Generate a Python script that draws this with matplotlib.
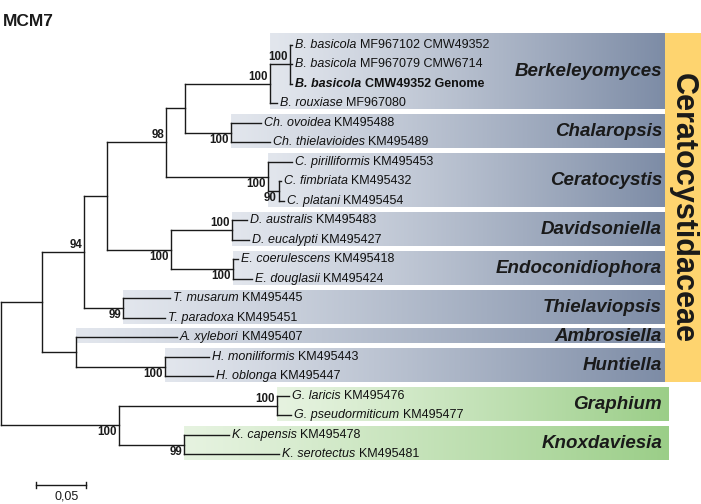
import matplotlib
matplotlib.use("Agg")
import matplotlib.pyplot as plt
import numpy as np
from matplotlib.collections import LineCollection
from matplotlib.patches import Rectangle

plt.rcParams['font.family'] = ['Liberation Sans', 'DejaVu Sans']

# ---------------- data ----------------
title = "MCM7"
leaf_species = ["B. basicola", "B. basicola", "B. basicola", "B. rouxiase",
                "Ch. ovoidea", "Ch. thielavioides", "C. pirilliformis",
                "C. fimbriata", "C. platani", "D. australis", "D. eucalypti",
                "E. coerulescens", "E. douglasii", "T. musarum", "T. paradoxa",
                "A. xylebori", "H. moniliformis", "H. oblonga", "G. laricis",
                "G. pseudormiticum", "K. capensis", "K. serotectus"]
leaf_accession = ["MF967102 CMW49352", "MF967079 CMW6714", "CMW49352 Genome",
                  "MF967080", "KM495488", "KM495489", "KM495453", "KM495432",
                  "KM495454", "KM495483", "KM495427", "KM495418", "KM495424",
                  "KM495445", "KM495451", "KM495407", "KM495443", "KM495447",
                  "KM495476", "KM495477", "KM495478", "KM495481"]
# distance of each tip from the root (substitutions/site)
leaf_depth = [0.291, 0.291, 0.291, 0.276, 0.260, 0.269, 0.291, 0.280, 0.283,
              0.246, 0.248, 0.237, 0.251, 0.169, 0.164, 0.176, 0.208, 0.212,
              0.288, 0.290, 0.228, 0.278]
highlight_leaf = 2

# internal nodes
node_names = ["root", "fam", "N94", "N107", "N98", "N185", "Berk", "Bb", "Chal",
              "CeratoC", "Nfp", "DE", "Dav", "Endo", "Thiel", "AH", "Hunt",
              "GK", "Graph", "Knox"]
node_depth = [0.000, 0.041, 0.083, 0.106, 0.165, 0.184, 0.269, 0.289, 0.230,
              0.267, 0.278, 0.170, 0.231, 0.232, 0.122, 0.075, 0.164,
              0.118, 0.276, 0.183]
node_children = [["fam", "GK"], ["N94", "AH"], ["N107", "Thiel"], ["N98", "DE"],
                 ["N185", "CeratoC"], ["Berk", "Chal"], ["Bb", 3], [0, 1, 2],
                 [4, 5], [6, "Nfp"], [7, 8], ["Dav", "Endo"], [9, 10], [11, 12],
                 [13, 14], [15, "Hunt"], [16, 17], ["Graph", "Knox"], [18, 19],
                 [20, 21]]
node_support = [None, None, "94", None, "98", None, "100", "100", "100",
                "100", "90", "100", "100", "100", "99", None, "100",
                "100", "100", "99"]
support_side = [None, None, "above", None, "above", None, "above", "above", "below",
                "below", "below", "below", "above", "below", "below", None, "below",
                "below", "above", "below"]

# genus bands: name, first leaf, last leaf, node giving left edge, group
genus_names = ["Berkeleyomyces", "Chalaropsis", "Ceratocystis", "Davidsoniella",
               "Endoconidiophora", "Thielaviopsis", "Ambrosiella", "Huntiella",
               "Graphium", "Knoxdaviesia"]
genus_first = [0, 4, 6, 9, 11, 13, 15, 16, 18, 20]
genus_last = [3, 5, 8, 10, 12, 14, 15, 17, 19, 21]
genus_node = ["Berk", "Chal", "CeratoC", "Dav", "Endo", "Thiel", "AH", "Hunt",
              "Graph", "Knox"]
genus_group = ["fam"] * 8 + ["out"] * 2
family_name = "Ceratocystidaceae"
scale_length = 0.05
scale_label = "0,05"

# ---------------- layout helpers ----------------
W, H = 701, 504
STEP = 19.5      # px between tips
Y0 = 45.0        # px of first tip
def X(px):
    return (px - 1) / 1000.0
def Y(px):
    return (px - Y0) / STEP

fig = plt.figure(figsize=(W / 100, H / 100), dpi=100)
ax = fig.add_axes([0, 0, 1, 1])
ax.axis('off')

depth = dict(zip(node_names, node_depth))
children = dict(zip(node_names, node_children))

ypos = {}
def node_y(n):
    if isinstance(n, int):
        return float(n)
    if n in ypos:
        return ypos[n]
    ys = [node_y(c) for c in children[n]]
    ypos[n] = (min(ys) + max(ys)) / 2
    return ypos[n]
for n in node_names:
    node_y(n)

def ndepth(n):
    return leaf_depth[n] if isinstance(n, int) else depth[n]

# ---------------- bands ----------------
fam_left = np.array([226, 230, 237]) / 255
fam_right = np.array([125, 140, 166]) / 255
out_left = np.array([230, 243, 224]) / 255
out_right = np.array([155, 206, 136]) / 255

band_tops, band_bots = [], []
for g, name in enumerate(genus_names):
    top = Y(Y0 + genus_first[g] * STEP - (11.5 if g == 0 else 8.5))
    bot = Y(Y0 + genus_last[g] * STEP + 6.0)
    band_tops.append(top)
    band_bots.append(bot)
    left = depth[genus_node[g]]
    if genus_group[g] == "fam":
        right = X(665); c0, c1 = fam_left, fam_right
    else:
        right = X(669); c0, c1 = out_left, out_right
    t = np.linspace(0, 1, 256)[:, None] ** 1.15
    grad = (c0[None, :] * (1 - t) + c1[None, :] * t)[None, :, :]
    ax.imshow(grad, extent=(left, right, bot, top), aspect='auto',
              interpolation='bilinear', zorder=0)
    ax.text(X(662), (top + bot) / 2 + 0.3 / STEP, name, ha='right', va='center',
            fontsize=13.5, fontweight='bold', fontstyle='italic',
            color='#1a1a1a', zorder=4)

# family strip
fam_top = band_tops[0]
fam_bot = band_bots[genus_group.index("out") - 1]
ax.add_patch(Rectangle((X(665), fam_bot), X(701) - X(665), fam_top - fam_bot,
                       facecolor='#fed46f', edgecolor='none', zorder=0))
ax.text(X(683), (fam_top + fam_bot) / 2, family_name, rotation=-90,
        ha='center', va='center', fontsize=22, fontweight='bold',
        color='#1a1a1a', zorder=4)

# ---------------- branches ----------------
segs = []
for n in node_names:
    x = depth[n]
    ys = [node_y(c) for c in children[n]]
    segs.append([(x, min(ys)), (x, max(ys))])
    for c in children[n]:
        segs.append([(x, node_y(c)), (ndepth(c), node_y(c))])
lc = LineCollection(segs, colors='#1a1a1a', linewidths=1.0,
                    capstyle='projecting', zorder=2)
ax.add_collection(lc)

# support values
for n, s, side in zip(node_names, node_support, support_side):
    if s is None:
        continue
    x = depth[n] - X(2) + X(0)
    y = node_y(n)
    if side == "above":
        ax.text(x, y - 1.2 / STEP, s, ha='right', va='bottom', fontsize=8.3,
                fontweight='bold', color='#1a1a1a', zorder=3)
    else:
        ax.text(x, y + 1.0 / STEP, s, ha='right', va='top', fontsize=8.3,
                fontweight='bold', color='#1a1a1a', zorder=3)

# ---------------- tip labels ----------------
tip_texts = []
for i, (sp, acc) in enumerate(zip(leaf_species, leaf_accession)):
    w = 'bold' if i == highlight_leaf else 'normal'
    t1 = ax.text(leaf_depth[i] + 0.003, i, sp, ha='left', va='center',
                 fontsize=9, fontstyle='italic', fontweight=w, color='#111111',
                 zorder=3)
    t2 = ax.annotate(acc, xy=(1, 0), xycoords=t1, xytext=(2.5, 0),
                     textcoords='offset points', ha='left', va='bottom',
                     fontsize=9, fontweight=w, color='#111111', zorder=3)
    tip_texts.append((t1, t2))

# highlight box for genome tip
fig.canvas.draw()
r = fig.canvas.get_renderer()
b1 = tip_texts[highlight_leaf][0].get_window_extent(r)
b2 = tip_texts[highlight_leaf][1].get_window_extent(r)
inv = ax.transData.inverted()
(hx0, hy0) = inv.transform((b1.x0 - 4, b1.y0 - 1))
(hx1, hy1) = inv.transform((b2.x1 + 2, b1.y1 + 1))
ax.add_patch(Rectangle((hx0, min(hy0, hy1)), hx1 - hx0, abs(hy1 - hy0),
                       facecolor='#dceaf5', edgecolor='none', zorder=1))

# ---------------- scale bar ----------------
sx0 = X(36)
sy = Y(485)
ax.plot([sx0, sx0 + scale_length], [sy, sy], color='#1a1a1a', lw=1.0)
for xx in (sx0, sx0 + scale_length):
    ax.plot([xx, xx], [sy - 3 / STEP, sy + 3 / STEP], color='#1a1a1a', lw=1.0)
ax.text(sx0 + scale_length / 2 + X(6) - X(0), Y(497), scale_label, ha='center',
        va='center', fontsize=9, color='#1a1a1a')

fig.text(3 / W, 1 - 22 / H, title, ha='left', va='center', fontsize=12.5,
         fontweight='bold', color='#1a1a1a')

ax.set_xlim(X(0), X(W))
ax.set_ylim(Y(H), Y(0))
fig.savefig("out.png", dpi=100)
